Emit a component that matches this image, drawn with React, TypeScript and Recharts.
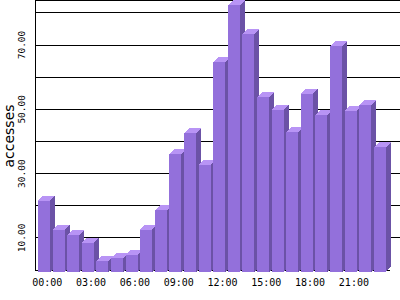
import React from 'react';
import { BarChart, Bar, XAxis, YAxis, CartesianGrid } from 'recharts';

const hours = ['00:00','01:00','02:00','03:00','04:00','05:00','06:00','07:00','08:00','09:00','10:00','11:00','12:00','13:00','14:00','15:00','16:00','17:00','18:00','19:00','20:00','21:00','22:00','23:00'];
const accesses = [21.5, 12.4, 10.9, 8.4, 2.9, 3.7, 4.6, 12.6, 18.6, 36, 42.5, 32.6, 64.6, 82.3, 73.3, 53.7, 49.7, 42.9, 54.7, 48.1, 69.6, 49.4, 51.2, 38.2];
const yTicks = [0, 10, 20, 30, 40, 50, 60, 70, 80];
const yLabeled = [10, 30, 50, 70];

const data = hours.map((h, i) => ({ hour: h, accesses: accesses[i] }));

const FRONT = '#9370DB';
const TOP = '#B894F5';
const SIDE = '#6B52A6';
const D = 5;

const Bar3D = (props: any) => {
  const { x, y, width, height } = props;
  if (width == null || height == null) return null;
  const bottom = y + height + 2;
  return (
    <g shapeRendering="crispEdges">
      <rect x={x} y={y} width={width} height={bottom - y} fill={FRONT} />
      <polygon points={`${x},${y} ${x + D},${y - D} ${x + width + D},${y - D} ${x + width},${y}`} fill={TOP} />
      <polygon points={`${x + width},${y} ${x + width + D},${y - D} ${x + width + D},${bottom - D} ${x + width},${bottom}`} fill={SIDE} />
    </g>
  );
};

const YTick = (props: any) => {
  const { y, payload } = props;
  if (!yLabeled.includes(payload.value)) return null;
  const tx = 25;
  return (
    <text x={tx} y={y} transform={`rotate(-90, ${tx}, ${y})`} textAnchor="middle" fontFamily="DejaVu Sans Mono" fontSize={9.5} fill="#000">
      {payload.value.toFixed(2)}
    </text>
  );
};

const XTick = (props: any) => {
  const { x, y, payload, index } = props;
  return (
    <g>
      {index % 3 === 0 && (
        <text x={x + 3} y={y + 8} textAnchor="middle" fontFamily="DejaVu Sans Mono" fontSize={10} fill="#000">
          {payload.value}
        </text>
      )}
    </g>
  );
};

const gridLine = (props: any) => {
  const { x1, x2, y1, y2, index } = props;
  const isBase = Math.abs(y1 - 270) < 2;
  return (
    <line key={`g${index}`} x1={x1} x2={isBase ? x2 + 3 : 400} y1={y1} y2={y2} stroke="#000" strokeWidth={1} shapeRendering="crispEdges" />
  );
};

export default function App() {
  return (
    <div style={{ position: 'absolute', left: 0, top: 0, width: 400, height: 300, background: '#fff' }}>
      <BarChart width={400} height={300} data={data} margin={{ top: 0, right: 12.6, bottom: 0, left: 0 }} barSize={12}>
        <CartesianGrid vertical={false} horizontal={gridLine} stroke="#000" />
        <XAxis dataKey="hour" height={30} interval={0} tick={<XTick />} tickLine={false} axisLine={false} padding={{ left: 2, right: 0 }} />
        <YAxis
          domain={[0, 84]}
          ticks={yTicks}
          width={35}
          tick={<YTick />}
          tickLine={false}
          axisLine={{ stroke: '#000', shapeRendering: 'crispEdges' }}
          label={{
            content: () => (
              <text x={14} y={136} transform="rotate(-90, 14, 136)" textAnchor="middle" fontFamily="DejaVu Sans" fontSize={14} fill="#000">
                accesses
              </text>
            ),
          }}
        />
        <Bar dataKey="accesses" shape={<Bar3D />} isAnimationActive={false} />
      </BarChart>
    </div>
  );
}
